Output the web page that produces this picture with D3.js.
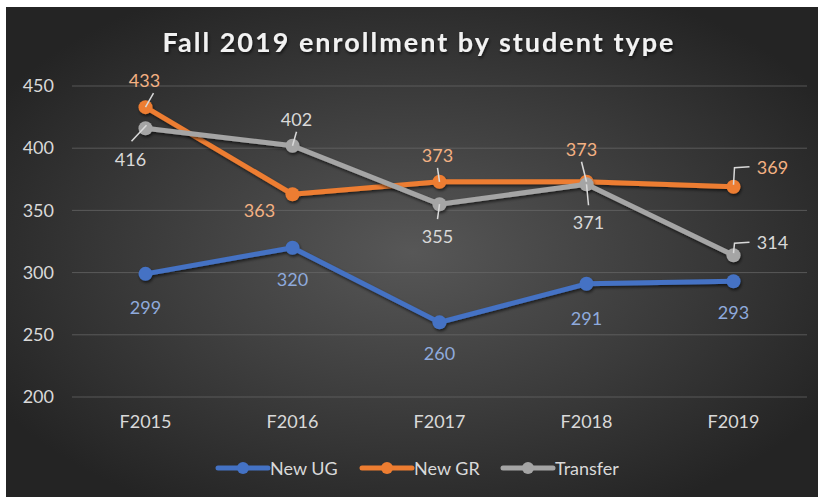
<!DOCTYPE html>
<html>
<head>
<meta charset="utf-8">
<title>Fall 2019 enrollment</title>
<script src="https://cdn.jsdelivr.net/npm/d3@7"></script>
<style>
body { margin: 0; background: #fff; }
text { font-family: Lato, "Open Sans", sans-serif; }
</style>
</head>
<body>
<div id="chart"></div>
<script>
var terms = ["F2015", "F2016", "F2017", "F2018", "F2019"];
var newUG = [299, 320, 260, 291, 293];
var newGR = [433, 363, 373, 373, 369];
var transfer = [416, 402, 355, 371, 314];
var yTicks = [200, 250, 300, 350, 400, 450];

var series = [
  { name: "New UG", values: newUG, color: "#4472c4", label: "#8faadc" },
  { name: "New GR", values: newGR, color: "#ed7d31", label: "#f4b183" },
  { name: "Transfer", values: transfer, color: "#a5a5a5", label: "#d9d9d9" }
];

// label placement per point: [dx, dy, leader]
var placement = {
  "New UG": [[0, 33], [0, 31], [0, 31], [0, 34], [0, 31]],
  "New GR": [[-1, -27, "up"], [-33, 16], [-2, -27, "vert"], [-5, -33, "vert"], [39, -20, "elbow"]],
  "Transfer": [[-15, 31, "down"], [4, -27, "vert"], [-2, 32, "vert"], [2, 38, "vert"], [39, -13, "elbow"]]
};

var W = 820, H = 499;
var svg = d3.select("#chart").append("svg")
  .attr("width", W).attr("height", H);

var defs = svg.append("defs");
var grad = defs.append("radialGradient").attr("id", "bg")
  .attr("cx", "50%").attr("cy", "50%").attr("r", "60%");
grad.append("stop").attr("offset", "0%").attr("stop-color", "#575757");
grad.append("stop").attr("offset", "100%").attr("stop-color", "#242424");

var shadow = defs.append("filter").attr("id", "shadow")
  .attr("x", "-20%").attr("y", "-20%").attr("width", "140%").attr("height", "140%");
shadow.append("feDropShadow").attr("dx", 1).attr("dy", 2).attr("stdDeviation", 1.5)
  .attr("flood-color", "#000").attr("flood-opacity", 0.6);

svg.append("rect").attr("x", 6).attr("y", 7)
  .attr("width", W - 8).attr("height", H - 9)
  .attr("fill", "url(#bg)");

var x = d3.scaleBand().domain(terms).range([72, 807]);
var y = d3.scaleLinear().domain([200, 450]).range([397, 86]);

// grid
svg.append("g").selectAll("line").data(yTicks).enter().append("line")
  .attr("x1", 72).attr("x2", 807)
  .attr("y1", function(d) { return y(d); })
  .attr("y2", function(d) { return y(d); })
  .attr("stroke", "#6a6a6a").attr("stroke-opacity", 0.7).attr("stroke-width", 1);

// y axis
var yAxis = svg.append("g").attr("transform", "translate(58,0)")
  .call(d3.axisLeft(y).tickValues(yTicks).tickSize(0).tickPadding(4));
yAxis.select(".domain").remove();
yAxis.selectAll("text").attr("fill", "#d9d9d9").style("font-size", "18px")
  .style("font-family", "Lato, 'Open Sans', sans-serif");

// x axis
var xAxis = svg.append("g").attr("transform", "translate(0,409)")
  .call(d3.axisBottom(x).tickSize(0).tickPadding(6));
xAxis.select(".domain").remove();
xAxis.selectAll("text").attr("fill", "#d9d9d9").style("font-size", "18px")
  .style("font-family", "Lato, 'Open Sans', sans-serif");

// title
svg.append("text").attr("x", 419).attr("y", 52)
  .attr("text-anchor", "middle").attr("fill", "#f2f2f2")
  .attr("filter", "url(#shadow)")
  .style("font-size", "27px").style("font-weight", "bold").style("letter-spacing", "2px")
  .text("Fall 2019 enrollment by student type");

var cx = function(i) { return x(terms[i]) + x.bandwidth() / 2; };

var line = d3.line()
  .x(function(d, i) { return cx(i); })
  .y(function(d) { return y(d); });

var lines = svg.append("g");
series.forEach(function(s) {
  var g = lines.append("g").attr("filter", "url(#shadow)");
  g.append("path").datum(s.values)
    .attr("d", line).attr("fill", "none")
    .attr("stroke", s.color).attr("stroke-width", 5)
    .attr("stroke-linejoin", "round").attr("stroke-linecap", "round");
  g.selectAll("circle").data(s.values).enter().append("circle")
    .attr("cx", function(d, i) { return cx(i); })
    .attr("cy", function(d) { return y(d); })
    .attr("r", 7).attr("fill", s.color);
});

// data labels and leader lines
var labels = svg.append("g");
series.forEach(function(s) {
  s.values.forEach(function(v, i) {
    var p = placement[s.name][i];
    var px = cx(i), py = y(v);
    var lx = px + p[0], ly = py + p[1];
    if (p[2] === "up") {
      labels.append("line").attr("x1", px).attr("y1", py)
        .attr("x2", px + 8).attr("y2", py - 14)
        .attr("stroke", "#d9d9d9").attr("stroke-width", 1.5);
    } else if (p[2] === "down") {
      labels.append("line").attr("x1", px + 1).attr("y1", py - 3)
        .attr("x2", px - 14).attr("y2", py + 13)
        .attr("stroke", "#d9d9d9").attr("stroke-width", 1.5);
    } else if (p[2] === "vert") {
      var y0 = p[1] < 0 ? ly + 13 : ly - 17;
      labels.append("line").attr("x1", px).attr("y1", py)
        .attr("x2", lx).attr("y2", y0)
        .attr("stroke", "#d9d9d9").attr("stroke-width", 1.5);
    } else if (p[2] === "elbow") {
      labels.append("polyline")
        .attr("points", [[px, py - 2], [px + 1, ly + 1], [lx - 23, ly]].join(" "))
        .attr("fill", "none").attr("stroke", "#d9d9d9").attr("stroke-width", 1.5);
    }
    labels.append("text").attr("x", lx).attr("y", ly)
      .attr("text-anchor", "middle").attr("dominant-baseline", "central")
      .attr("fill", s.label).style("font-size", "18px")
      .text(v);
  });
});

// legend
var legendX = [218, 362, 503];
var legend = svg.append("g");
series.forEach(function(s, i) {
  var g = legend.append("g").attr("transform", "translate(" + legendX[i] + ",468)");
  g.append("line").attr("x1", 0).attr("x2", 50)
    .attr("stroke", s.color).attr("stroke-width", 5).attr("stroke-linecap", "round");
  g.append("circle").attr("cx", 25).attr("r", 6).attr("fill", s.color);
  g.append("text").attr("x", 52).attr("dominant-baseline", "central")
    .attr("fill", "#d9d9d9").style("font-size", "18px").text(s.name);
});
</script>
</body>
</html>
